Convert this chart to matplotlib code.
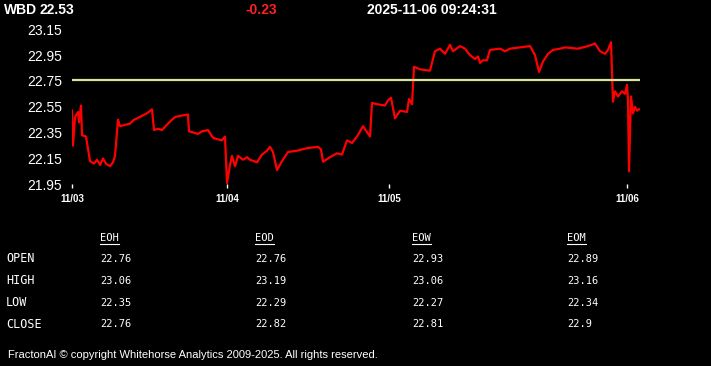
import matplotlib
matplotlib.use("Agg")
import matplotlib.pyplot as plt
from matplotlib.lines import Line2D

# Header
symbol = "WBD"
last_price = "22.53"
change = "-0.23"
timestamp = "2025-11-06 09:24:31"

# Intraday series (bar index, price)
bars = [0, 1, 3, 6, 7, 9, 10, 14, 18, 22, 25, 28, 31, 34, 38, 41, 43, 46, 48, 53,
        58, 62, 65, 70, 75, 80, 82, 86, 90, 96, 100, 103, 108, 116, 117, 122, 126,
        130, 136, 141, 145, 150, 153, 155, 158, 160, 163, 166, 171, 175, 178, 185,
        190, 195, 198, 201, 205, 210, 216, 225, 235, 246, 249, 251, 258, 265, 270,
        275, 280, 285, 291, 298, 300, 305, 313, 316, 319, 323, 328, 335, 337, 340,
        342, 348, 358, 363, 368, 373, 378, 381, 388, 393, 398, 403, 406, 408, 411,
        415, 418, 428, 433, 438, 448, 458, 463, 467, 471, 476, 481, 488, 493, 506,
        516, 523, 528, 533, 536, 539, 541, 543, 546, 550, 553, 555, 556, 557, 559,
        561, 563, 565, 567]
prices = [22.52, 22.25, 22.47, 22.51, 22.43, 22.56, 22.33, 22.32, 22.13, 22.11,
          22.14, 22.10, 22.15, 22.11, 22.09, 22.12, 22.17, 22.45, 22.40, 22.41,
          22.42, 22.45, 22.46, 22.48, 22.50, 22.53, 22.37, 22.38, 22.37, 22.42,
          22.45, 22.47, 22.48, 22.49, 22.36, 22.35, 22.34, 22.36, 22.37, 22.31,
          22.30, 22.29, 22.32, 21.96, 22.10, 22.17, 22.09, 22.17, 22.14, 22.16,
          22.14, 22.12, 22.18, 22.21, 22.24, 22.20, 22.06, 22.13, 22.20, 22.21,
          22.23, 22.24, 22.22, 22.125, 22.16, 22.19, 22.18, 22.29, 22.27, 22.32,
          22.40, 22.32, 22.58, 22.57, 22.56, 22.60, 22.62, 22.46, 22.52, 22.51,
          22.61, 22.57, 22.86, 22.84, 22.83, 22.98, 23.00, 22.96, 23.03, 22.98,
          23.02, 23.00, 22.95, 22.92, 22.94, 22.89, 22.91, 22.91, 22.99, 23.00,
          22.98, 23.00, 23.01, 23.02, 22.95, 22.82, 22.90, 22.96, 22.99, 23.00,
          23.01, 23.00, 23.02, 23.04, 22.98, 22.96, 22.99, 23.05, 22.59, 22.67,
          22.63, 22.67, 22.65, 22.72, 22.60, 22.05, 22.63, 22.50, 22.55, 22.52,
          22.53]
ref_level = 22.76

day_ticks = [0, 155, 317, 555]
day_labels = ["11/03", "11/04", "11/05", "11/06"]
y_ticks = [21.95, 22.15, 22.35, 22.55, 22.75, 22.95, 23.15]

# OHLC table
col_names = ["EOH", "EOD", "EOW", "EOM"]
row_names = ["OPEN", "HIGH", "LOW", "CLOSE"]
eoh = ["22.76", "23.06", "22.35", "22.76"]
eod = ["22.76", "23.19", "22.29", "22.82"]
eow = ["22.93", "23.06", "22.27", "22.81"]
eom = ["22.89", "23.16", "22.34", "22.9"]

footer = "FractonAI \u00a9 copyright Whitehorse Analytics 2009-2025. All rights reserved."

W, H = 711, 366
fig = plt.figure(figsize=(W / 100, H / 100), dpi=100, facecolor="black")

def fx(x):
    return x / W

def fy(y):
    return 1 - y / H

ax = fig.add_axes([fx(72), fy(184.3), fx(640) - fx(72), (184.3 - 29.3) / H])
ax.set_facecolor("black")
ax.plot(bars, prices, color="#ff0000", lw=1.6)
ax.axhline(ref_level, color="#dde49a", lw=1.6)
ax.set_xlim(0, 568)
ax.set_ylim(21.95, 23.15)
for s in ax.spines.values():
    s.set_visible(False)
ax.set_yticks(y_ticks)
ax.set_yticklabels([f"{v:.2f}" for v in y_ticks])
ax.tick_params(axis="y", length=0, pad=7, labelcolor="white", labelsize=10)
ax.set_xticks(day_ticks)
ax.set_xticklabels(day_labels)
ax.tick_params(axis="x", length=3, width=1, color="white", direction="out",
               pad=4, labelcolor="white", labelsize=7)
for lab in ax.get_xticklabels():
    lab.set_fontweight("bold")
for lab in ax.get_yticklabels() + ax.get_xticklabels():
    lab.set_family("Liberation Sans")

# header
hdr = dict(color="white", fontsize=10, fontweight="bold", family="Liberation Sans", va="center")
fig.text(fx(4), fy(10), symbol, **hdr)
fig.text(fx(40), fy(10), last_price, **hdr)
fig.text(fx(245), fy(10), change, **{**hdr, "color": "#ff2020"})
fig.text(fx(367), fy(10), timestamp, **hdr)

# table
mono = dict(color="white", fontsize=7.5, family="DejaVu Sans Mono", va="center")
col_x = [100, 255, 412, 567]
row_y = [259, 281, 303, 324]
cols = [eoh, eod, eow, eom]
fig.canvas.draw()
renderer = fig.canvas.get_renderer()
for name, x in zip(col_names, col_x):
    t = fig.text(fx(x), fy(238), name, **mono)
    bb = t.get_window_extent(renderer)
    fig.add_artist(Line2D([fx(x), fx(x) + bb.width / W], [fy(244), fy(244)],
                          transform=fig.transFigure, color="white", lw=0.8))
for name, y in zip(row_names, row_y):
    fig.text(fx(6), fy(y), name, **{**mono, "fontsize": 8.5})
for vals, x in zip(cols, col_x):
    for v, y in zip(vals, row_y):
        fig.text(fx(x), fy(y), v, **mono)

fig.text(fx(8), fy(355), footer, color="white", fontsize=8,
         family="Liberation Sans", va="center")

fig.savefig("out.png", dpi=100, facecolor="black")
